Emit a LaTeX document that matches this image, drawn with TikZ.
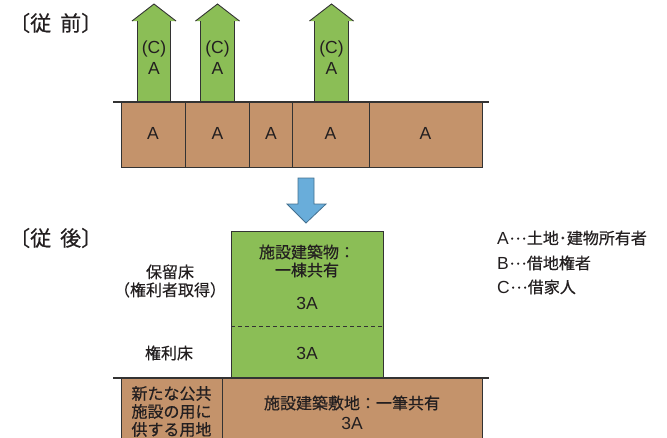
\documentclass[tikz,border=0pt]{standalone}
\usepackage{fontspec}
\setmainfont{Noto Sans CJK JP}[FakeBold=0.5]
\newfontfamily\latfont{Liberation Sans}
\newcommand\fwell{\makebox[18pt]{\raisebox{4.5pt}{…}}}
\definecolor{grn}{HTML}{8BBE56}
\definecolor{brn}{HTML}{C4936B}
\definecolor{blu}{HTML}{69ADDA}
\definecolor{bluline}{HTML}{44708F}
\definecolor{ln}{HTML}{333333}
\definecolor{tx}{HTML}{231F20}
\begin{document}
\begin{tikzpicture}[x=1pt,y=-1pt,
  txt/.style={font=\fontsize{16}{18}\selectfont, text=tx, inner sep=0pt, align=center},
  lat/.style={font=\latfont\fontsize{17.5}{20}\selectfont, text=tx, inner sep=0pt, align=center},
  head/.style={font=\fontsize{21}{24}\selectfont, text=tx, inner sep=0pt, anchor=west},
  outl/.style={draw=ln, line width=0.9pt},
  ground/.style={draw=ln, line width=2pt},
  landfill/.style={fill=brn},
  bldfill/.style={fill=grn}]
\useasboundingbox (0,0) rectangle (667,437);
\clip (0,0) rectangle (667,437);
% ---- before ----
\node[head] (before) at (9,23) {〔従\hspace{9pt}前〕};
\foreach \c/\n in {154/1,217.5/2,331.5/3} {
  \fill[bldfill] (\c-16.75,102) -- (\c-16.75,21) -- (\c-22,21) -- (\c,4) -- (\c+22,21) -- (\c+16.75,21) -- (\c+16.75,102) -- cycle;
  \draw[outl] (\c-16.75,102) -- (\c-16.75,21);
  \draw[outl] (\c+16.75,102) -- (\c+16.75,21);
  \draw[outl] (\c-22,21) -- (\c,4) -- (\c+22,21);
  \node[lat] (upc\n) at (\c,49) {(C)};
  \node[lat] (upa\n) at (\c,68) {A};
}
\fill[landfill] (121,102) rectangle (482,167);
\draw[outl] (121,102) rectangle (482,167);
\foreach \x in {185.3,249.7,292,369} \draw[outl] (\x,102) -- (\x,167);
\foreach \x/\n in {153/1,217.5/2,271/3,330.5/4,425.5/5}
  \node[lat] (land\n) at (\x,133) {A};
\draw[ground] (113,102) -- (489,102);
% ---- arrow ----
\draw[fill=blu, draw=bluline, line width=0.8pt] (298,178) -- (314,178) -- (314,204) -- (326,204) -- (306,223) -- (287,204) -- (298,204) -- cycle;
% ---- after ----
\node[head] (after) at (9,238) {〔従\hspace{9pt}後〕};
\fill[bldfill] (231,231) rectangle (383,378);
\draw[outl] (231,231) rectangle (383,378);
\draw[draw=ln, line width=0.9pt, dash pattern=on 4pt off 3pt] (231,326) -- (383,326);
\node[txt] (bldname) at (307,261) {施設建築物：\\一棟共有};
\node[lat] (res3a) at (307,303) {3A};
\node[lat] (right3a) at (307,353) {3A};
\node[txt] (reserve) at (170,281) {保留床\\（権利者取得）};
\node[txt] (rightfloor) at (169,353) {権利床};
\fill[landfill] (121,378) rectangle (482,445);
\draw[outl] (121,378) -- (121,445) (482,378) -- (482,445) (222,378) -- (222,445);
\draw[ground] (113,378) -- (489,378);
\node[txt] (public) at (171.5,411.5) {新たな公共\\施設の用に\\供する用地};
\node[txt] (site) at (352,403) {施設建築敷地：一筆共有};
\node[lat] (site3a) at (352,423) {3A};
% ---- legend ----
\node[txt, anchor=west] (legA) at (497,238) {{\latfont\fontsize{17.5}{20}\selectfont A}\fwell 土地･建物所有者};
\node[txt, anchor=west] (legB) at (497,263) {{\latfont\fontsize{17.5}{20}\selectfont B}\fwell 借地権者};
\node[txt, anchor=west] (legC) at (497,287) {{\latfont\fontsize{17.5}{20}\selectfont C}\fwell 借家人};
\end{tikzpicture}
\end{document}
